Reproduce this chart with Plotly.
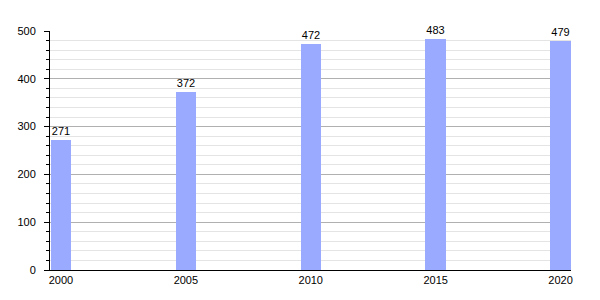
import plotly.graph_objects as go

years = [2000, 2005, 2010, 2015, 2020]
values = [271, 372, 472, 483, 479]
tick_labels = ["2000", "2005", "2010", "2015", "2020"]

fig = go.Figure()
fig.add_trace(go.Bar(
    x=years, y=values, width=0.82,
    marker=dict(color="#99aaff", line=dict(width=0)),
    text=[str(v) for v in values], textposition="outside",
    textfont=dict(size=11, color="black", family="Liberation Sans, Arial, sans-serif"),
    cliponaxis=False,
))
fig.update_layout(
    width=600, height=300,
    margin=dict(l=50, r=29, t=31, b=30),
    paper_bgcolor="white", plot_bgcolor="white",
    showlegend=False, bargap=0,
    font=dict(family="Liberation Sans, Arial, sans-serif", size=11, color="black"),
    xaxis=dict(range=[1999.56, 2020.42], tickvals=years, ticktext=tick_labels,
               showgrid=False, zeroline=False, showline=True, linecolor="black",
               linewidth=1, ticks="", fixedrange=True, tickfont=dict(size=11)),
    yaxis=dict(range=[0, 500], tickvals=[0, 100, 200, 300, 400, 500],
               showgrid=True, gridcolor="#b0b0b0", gridwidth=1,
               zeroline=False, showline=True, linecolor="black", linewidth=1,
               ticks="outside", ticklen=5, tickcolor="black",
               ticklabelstandoff=6, tickfont=dict(size=11),
               minor=dict(dtick=20, showgrid=True, gridcolor="#e4e4e4",
                          ticks="outside", ticklen=3, tickcolor="black")),
)
fig.write_html("out.html")
